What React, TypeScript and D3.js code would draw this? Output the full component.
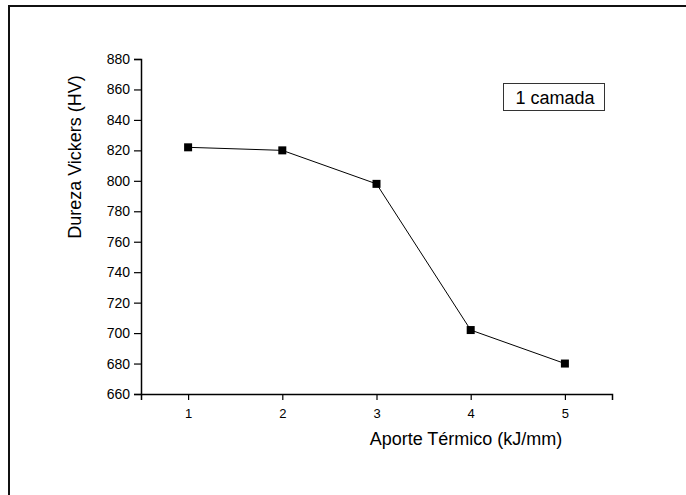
import React, { useEffect, useRef } from 'react';
import * as d3 from 'd3';

// data
const aporte = [1, 2, 3, 4, 5];
const dureza = [822, 820, 798, 702, 680];
const yTicks = [660, 680, 700, 720, 740, 760, 780, 800, 820, 840, 860, 880];
const xTicks = [1, 2, 3, 4, 5];
const legendLabel = '1 camada';

function App() {
  const ref = useRef<SVGSVGElement | null>(null);

  useEffect(() => {
    if (!ref.current) return;
    const W = 686;
    const H = 495;
    const font = '"Liberation Sans", Arial, sans-serif';

    const svg = d3.select(ref.current);
    svg.selectAll('*').remove();
    svg.attr('width', W).attr('height', H);

    // outer frame (only top & left visible)
    svg.append('rect')
      .attr('x', 9).attr('y', 6)
      .attr('width', 700).attr('height', 520)
      .attr('fill', 'white')
      .attr('stroke', '#111')
      .attr('stroke-width', 2);

    const x = d3.scaleLinear().domain([0.5, 5.5]).range([141, 612]);
    const y = d3.scaleLinear().domain([660, 880]).range([394, 59]);

    // y axis
    const yAxis = svg.append('g').attr('transform', `translate(${x(0.5)},0)`);
    yAxis.call(
      d3.axisLeft(y).tickValues(d3.range(670, 880, 20)).tickSize(4).tickFormat(() => '')
    );
    yAxis.call(d3.axisLeft(y).tickValues(yTicks).tickSize(7).tickPadding(4).tickFormat(d3.format('d')));
    yAxis.selectAll('.domain').attr('stroke', '#000').attr('stroke-width', 1.5);
    yAxis.selectAll('line').attr('stroke', '#000').attr('stroke-width', 1.2);
    yAxis.selectAll('text').style('font-family', font).style('font-size', '14px').attr('fill', '#000');

    // x axis
    const xAxis = svg.append('g').attr('transform', `translate(0,${y(660)})`);
    xAxis.call(
      d3.axisBottom(x).tickValues(d3.range(0.5, 5.6, 1)).tickSize(4).tickFormat(() => '')
    );
    xAxis.call(d3.axisBottom(x).tickValues(xTicks).tickSize(6).tickPadding(9).tickFormat(d3.format('d')));
    xAxis.selectAll('.domain').attr('stroke', '#000').attr('stroke-width', 1.5);
    xAxis.selectAll('line').attr('stroke', '#000').attr('stroke-width', 1.2);
    xAxis.selectAll('text').style('font-family', font).style('font-size', '13px').attr('fill', '#000');

    // axis titles
    svg.append('text')
      .attr('transform', `translate(81,157) rotate(-90)`)
      .attr('text-anchor', 'middle')
      .style('font-family', font)
      .style('font-size', '18px')
      .text('Dureza Vickers (HV)');

    svg.append('text')
      .attr('x', 466).attr('y', 445)
      .attr('text-anchor', 'middle')
      .style('font-family', font)
      .style('font-size', '18px')
      .text('Aporte Térmico (kJ/mm)');

    // line + markers
    const pts = aporte.map((a, i) => [a, dureza[i]] as [number, number]);
    const line = d3.line<[number, number]>().x((d) => x(d[0])).y((d) => y(d[1]));
    svg.append('path')
      .attr('d', line(pts))
      .attr('fill', 'none')
      .attr('stroke', '#000')
      .attr('stroke-width', 1);

    svg.selectAll('.pt')
      .data(pts)
      .join('rect')
      .attr('class', 'pt')
      .attr('x', (d) => x(d[0]) - 4)
      .attr('y', (d) => y(d[1]) - 4)
      .attr('width', 8)
      .attr('height', 8)
      .attr('fill', '#000');

    // legend box
    svg.append('rect')
      .attr('x', 503.5).attr('y', 83.5)
      .attr('width', 101).attr('height', 27)
      .attr('fill', 'white')
      .attr('stroke', '#333')
      .attr('stroke-width', 1);
    svg.append('text')
      .attr('x', 555).attr('y', 104)
      .attr('text-anchor', 'middle')
      .style('font-family', font)
      .style('font-size', '18px')
      .text(legendLabel);
  }, []);

  return <svg ref={ref} style={{ position: 'absolute', left: 0, top: 0 }} />;
}

export default App;
